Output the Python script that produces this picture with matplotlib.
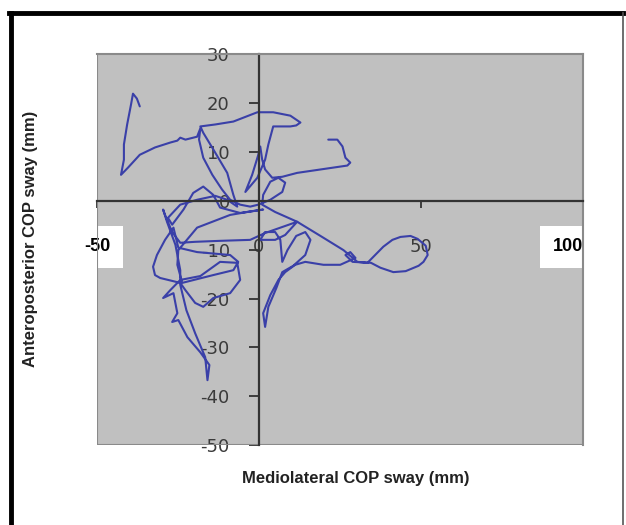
import matplotlib
matplotlib.use('Agg')
import matplotlib.pyplot as plt
from matplotlib.lines import Line2D

# COP trace, mediolateral (x) vs anteroposterior (y), mm
ml_sway = [
    -36.8, -37.7, -38.9, -39.5, -40.7, -41.7, -41.7, -42.6, -40.4, -36.8,
    -32.1, -27.4, -25.2, -24.3, -22.7, -19.1, -18.1, -18.5, -17.2, -14.4,
    -11.4, -8.9, -5.8, -2.7, -0.2, 3.5, 7.2, 8.1, 6.0, 3.5,
    1.3, 1.0, 5.0, 11.8, 19.0, 26.1, 30.4, 33.5, 38.4, 41.2, 43.7, 46.8,
    49.0, 51.5, 52.1, 50.8, 49.3, 45.3, 41.5, 37.5, 34.6, 28.9, 26.7, 28.2, 29.8, 25.1,
    19.9, 14.3, 11.2, 8.1, 6.0, 3.5, 1.3, 1.9, 2.9, 5.4,
    7.2, 10.6, 14.3, 15.9, 14.3, 11.5, 8.8, 7.2, 6.6, 5.0,
    1.9, 0.4, 5.0, 8.1, 11.8, 1.9, -2.7, -12.0, -19.7, -24.3,
    -26.8, -29.0, -29.6, -28.4, -25.8, -24.3, -24.3, -22.4, -19.7, -16.6,
    -15.9, -15.3, -18.1, -22.1, -24.9, -26.8, -25.2, -26.4, -29.6, -27.4,
    -24.3, -18.1, -12.0, -6.7, -5.8, -8.9, -14.1, -17.2, -19.7, -22.7,
    -24.3, -30.5, -32.1, -32.7, -31.5, -29.0, -26.4, -24.9, -19.1, -8.9, -6.4,
    -7.9, -14.1, -23.7, -25.2, -24.9, -19.1, -8.9, -3.6, 1.3, -5.8,
    -12.0, -14.1, -17.2, -20.3, -23.3, -26.8, -28.1, -24.3, -19.1, -13.5,
    -9.8, -6.7, -7.9, -9.8, -14.1, -17.2, -18.1, -13.5, -7.9, -0.5,
    4.4, 9.7, 12.8, 11.5, 9.7, 4.4, 2.9, 1.9, -0.5, -4.2, -2.1,
    -0.2, 0.4, 1.0, 1.9, 4.1, 7.2, 11.8, 19.0, 27.3, 28.2,
    26.7, 25.8, 24.2, 21.4,
]
ap_sway = [
    19.3, 20.9, 21.9, 19.7, 15.6, 11.5, 8.4, 5.3, 6.8, 9.4,
    10.9, 11.9, 12.3, 12.9, 12.5, 13.1, 14.8, 12.5, 8.8, 5.3,
    2.3, 0.2, -0.8, -1.2, -0.8, 0.2, 1.8, 3.7, 4.7, 3.9,
    1.2, -0.8, -2.3, -4.3, -7.2, -10.1, -12.5, -12.7, -9.4, -8.0, -7.4, -7.2,
    -7.8, -9.2, -11.1, -12.5, -13.3, -14.4, -14.6, -13.7, -12.7, -12.5, -11.1, -10.5, -11.7, -13.1,
    -13.1, -12.5, -13.1, -14.6, -16.2, -19.3, -23.0, -25.8, -21.7, -17.8,
    -14.6, -13.3, -11.1, -8.0, -6.4, -7.2, -10.1, -12.5, -8.0, -6.4,
    -6.4, -8.0, -8.0, -7.0, -4.3, -6.6, -8.0, -8.2, -8.4, -8.6,
    -6.4, -2.9, -1.8, -4.3, -9.0, -14.2, -17.2, -22.4, -27.1, -32.0,
    -36.7, -33.6, -31.0, -27.9, -24.4, -24.8, -23.0, -18.9, -19.9, -18.3,
    -16.2, -15.4, -12.5, -12.7, -16.2, -18.9, -19.9, -21.7, -20.9, -18.3,
    -16.8, -15.8, -15.2, -13.5, -11.1, -8.0, -5.5, -9.6, -10.5, -11.1, -12.5,
    -14.2, -15.2, -16.8, -13.1, -10.1, -5.5, -2.9, -2.3, -1.8, -2.5,
    -1.4, 1.2, 2.9, 1.6, -1.8, -4.9, -3.5, -0.8, 0.2, 1.0,
    0.2, -1.2, 1.2, 5.7, 10.5, 13.9, 15.2, 15.6, 16.2, 18.1,
    18.1, 17.4, 16.0, 15.4, 15.2, 15.2, 11.5, 8.4, 4.7, 1.8, 5.3,
    9.4, 11.1, 8.4, 6.4, 4.7, 4.9, 5.7, 6.4, 7.2, 7.8,
    8.8, 11.1, 12.5, 12.5,
]

x_ticks = [-50, 0, 50, 100]
y_ticks = [30, 20, 10, 0, -10, -20, -30, -40, -50]

fig = plt.figure(figsize=(6.26, 5.25), dpi=100)
ax = fig.add_axes([0.155, 0.152, 0.776, 0.745])
ax.set_facecolor('#c0c0c0')
for side in ['top', 'right']:
    ax.spines[side].set_color('#8a8a8a')
    ax.spines[side].set_linewidth(1.5)

ax.plot(ml_sway, ap_sway, color='#3a40a8', linewidth=1.5,
        solid_joinstyle='round', solid_capstyle='round')

ax.set_xlim(-50, 100)
ax.set_ylim(-50, 30)

# Excel style axes crossing at the origin
ax.spines['left'].set_position(('data', 0))
ax.spines['bottom'].set_position(('data', 0))
ax.spines['left'].set_color('#333333')
ax.spines['bottom'].set_color('#333333')
ax.spines['left'].set_linewidth(1.6)
ax.spines['bottom'].set_linewidth(1.6)
# frame edges of the gray area
ax.axvline(-50, color='#8a8a8a', linewidth=1.5)
ax.axhline(-50, color='#8a8a8a', linewidth=1.5)

ax.set_xticks(x_ticks)
ax.set_yticks(y_ticks)
ax.set_yticklabels([str(v) for v in y_ticks])
ax.set_xticklabels([str(v) for v in x_ticks])
ax.tick_params(axis='y', direction='out', length=7, width=1.3, color='#333333',
               pad=14, labelsize=13, labelcolor='#3a3a3a')
ax.tick_params(axis='x', direction='out', length=5, width=1.3, color='#333333',
               pad=22, labelsize=13, labelcolor='#3a3a3a')

xt = ax.get_xticklabels()
for i in [0, len(xt) - 1]:
    xt[i].set_fontfamily('Liberation Sans')
    xt[i].set_fontweight('bold')
    xt[i].set_fontsize(13)
    xt[i].set_color('black')
    xt[i].set_bbox(dict(facecolor='white', edgecolor='none', pad=9))
xt[-1].set_horizontalalignment('right')

fig.text(0.569, 0.088, 'Mediolateral COP sway (mm)', ha='center', va='center',
         fontsize=12, fontweight='bold', family='Liberation Sans', color='#222222')
fig.text(0.049, 0.545, 'Anteroposterior COP sway (mm)', ha='center', va='center',
         rotation=90, fontsize=12, fontweight='bold', family='Liberation Sans',
         color='#222222')

# outer frame
fig.add_artist(Line2D([0.0168, 0.0168], [0.0, 0.976], transform=fig.transFigure,
                      color='black', linewidth=3.5))
fig.add_artist(Line2D([0.0145, 0.995], [0.976, 0.976], transform=fig.transFigure,
                      color='black', linewidth=3.5))
fig.add_artist(Line2D([0.995, 0.995], [0.0, 0.976], transform=fig.transFigure,
                      color='#555555', linewidth=1.2))

fig.savefig('out.png', dpi=100)
